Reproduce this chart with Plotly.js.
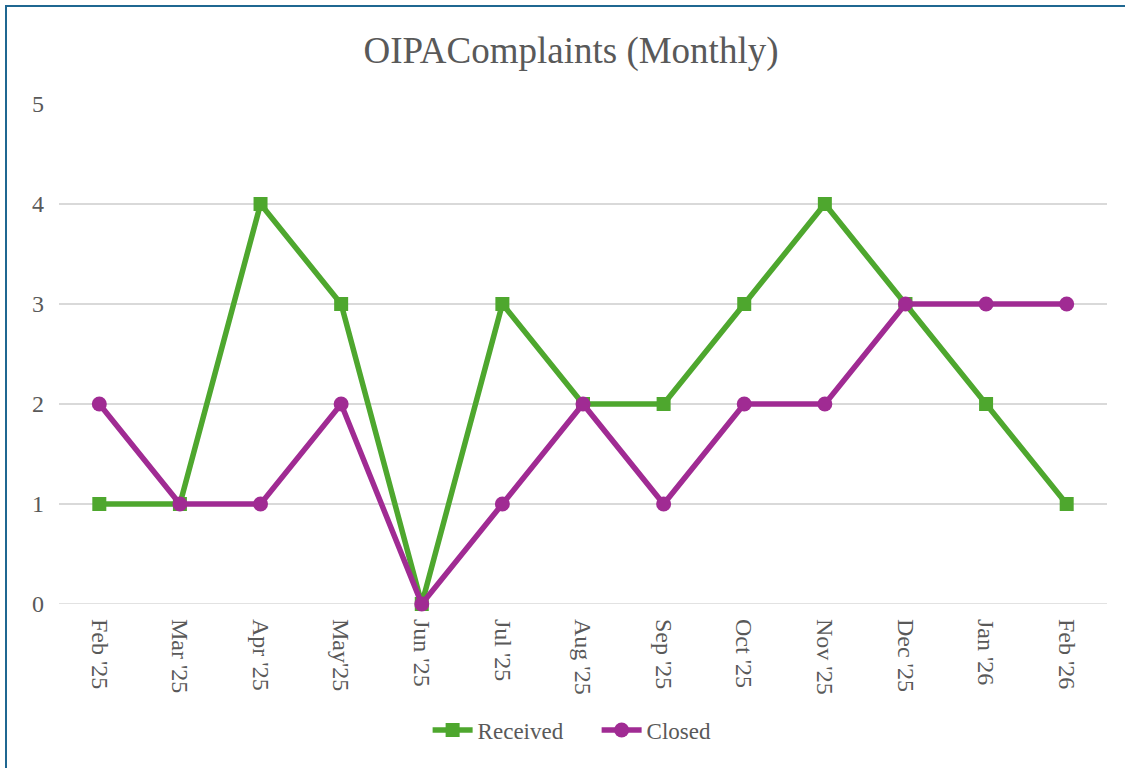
<!DOCTYPE html>
<html>
<head>
<meta charset="utf-8">
<script src="https://cdn.plot.ly/plotly-3.0.1.min.js"></script>
<style>
  html, body { margin: 0; padding: 0; background: #fff; }
  #frame { position: absolute; left: 5px; top: 5px; width: 1120px; height: 763px;
           border-left: 2px solid #1f6791; border-top: 2px solid #1f6791; box-sizing: border-box; }
  #chart { position: absolute; left: 0; top: 0; width: 1125px; height: 768px; }
</style>
</head>
<body>
<div id="frame"></div>
<div id="chart"></div>
<script>
const months = ["Feb '25", "Mar '25", "Apr '25", "May'25", "Jun '25", "Jul '25", "Aug '25", "Sep '25", "Oct '25", "Nov '25", "Dec '25", "Jan '26", "Feb '26"];
const received = [1, 1, 4, 3, 0, 3, 2, 2, 3, 4, 3, 2, 1];
const closed = [2, 1, 1, 2, 0, 1, 2, 1, 2, 2, 3, 3, 3];

const font = "Liberation Serif, Times New Roman, serif";
const grey = "#595959";

const traces = [
  { x: months, y: received, name: "Received", type: "scatter", mode: "lines+markers",
    line: { color: "#4ea72e", width: 5.5 }, marker: { symbol: "square", size: 14, color: "#4ea72e" },
    cliponaxis: false },
  { x: months, y: closed, name: "Closed", type: "scatter", mode: "lines+markers",
    line: { color: "#a02b93", width: 5.5 }, marker: { symbol: "circle", size: 15, color: "#a02b93" },
    cliponaxis: false }
];

const layout = {
  width: 1125, height: 768,
  paper_bgcolor: "rgba(0,0,0,0)", plot_bgcolor: "rgba(0,0,0,0)",
  margin: { l: 59, r: 18, t: 104, b: 164 },
  title: { text: "OIPAComplaints (Monthly)", font: { family: font, size: 37, color: grey },
           x: 0.5076, xanchor: "center", y: 0.935, yanchor: "middle", xref: "container" },
  xaxis: { type: "category", range: [-0.5, 12.5], showgrid: false, zeroline: false,
           showline: false, ticks: "", tickangle: 90, ticklabelstandoff: 14,
           tickfont: { family: font, size: 24, color: grey } },
  yaxis: { range: [0, 5], dtick: 1, showgrid: true, gridcolor: "#d9d9d9", gridwidth: 1.5,
           zeroline: false, showline: false, ticks: "", ticklabelstandoff: 14,
           tickfont: { family: font, size: 24, color: grey } },
  showlegend: true,
  legend: { orientation: "h", x: 0.513, xanchor: "center", y: -0.252, yanchor: "middle",
            font: { family: font, size: 23, color: grey }, itemwidth: 40,
            entrywidth: 114, entrywidthmode: "pixels" },
  shapes: [
    { type: "line", xref: "paper", yref: "y", x0: 0, x1: 1, y0: 0, y1: 0,
      line: { color: "#d9d9d9", width: 1.5 }, layer: "below" }
  ]
};

Plotly.newPlot("chart", traces, layout, { displayModeBar: false, staticPlot: true });
</script>
</body>
</html>
